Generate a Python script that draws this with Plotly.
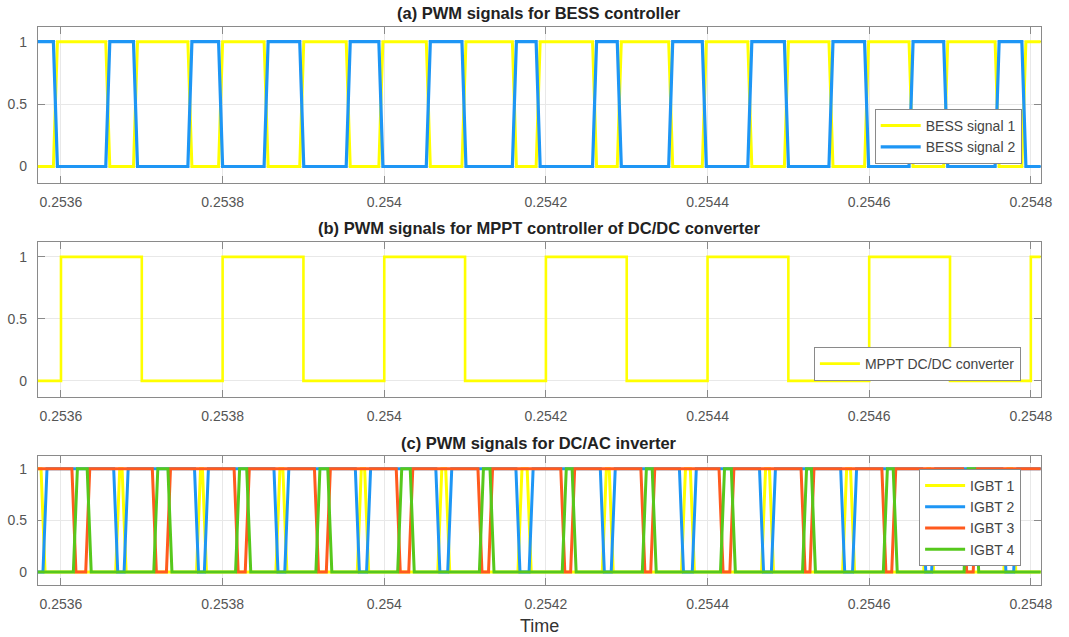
import plotly.graph_objects as go

# ---------------- data (switching instants in seconds) ----------------
T_START = 0.25355
T_END = 0.25483
X_RANGE = [0.2535714, 0.2548122]
Y_RANGE = [-0.13, 1.12]

X_TICKS = [0.2536, 0.2538, 0.2540, 0.2542, 0.2544, 0.2546, 0.2548]
X_TICK_TEXT = ["0.2536", "0.2538", "0.254", "0.2542", "0.2544", "0.2546", "0.2548"]
Y_TICKS = [0, 0.5, 1]
Y_TICK_TEXT = ["0", "0.5", "1"]

# (a) BESS controller
BESS1_INIT = 0
BESS1_EDGES = [0.2535906, 0.2536554, 0.2536897, 0.2537570, 0.2537950, 0.2538513,
               0.2538954, 0.2539529, 0.2539933, 0.2540520, 0.2540961, 0.2541585,
               0.2541879, 0.2542577, 0.2542883, 0.2543519, 0.2543935, 0.2544498,
               0.2544951, 0.2545502, 0.2545943, 0.2546493, 0.2546922, 0.2547558,
               0.2547889]
BESS2_INIT = 1
BESS2_EDGES = [0.2535906, 0.2536554, 0.2536897, 0.2537570, 0.2537950, 0.2538513,
               0.2538954, 0.2539529, 0.2539933, 0.2540520, 0.2540961, 0.2541585,
               0.2541879, 0.2542577, 0.2542883, 0.2543519, 0.2543935, 0.2544498,
               0.2544951, 0.2545502, 0.2545943, 0.2546493, 0.2546922, 0.2547558,
               0.2547889]
BESS_RAMP = 5e-6

# (b) MPPT DC/DC converter
MPPT_INIT = 0
MPPT_EDGES = [0.2536, 0.2537, 0.2538, 0.2539, 0.2540, 0.2541, 0.2542, 0.2543,
              0.2544, 0.2545, 0.2546, 0.2547, 0.2548]
MPPT_RAMP = 0.0

# (c) DC/AC inverter
IGBT1_INIT = 1
IGBT1_EDGES = [0.2535753, 0.2536677, 0.2536756, 0.2537677, 0.2537750, 0.2538659,
               0.2538745, 0.2539666, 0.2539757, 0.2540662, 0.2540760, 0.2541654,
               0.2541768, 0.2542698, 0.2542783, 0.2543677, 0.2543787, 0.2544668,
               0.2544766, 0.2545671, 0.2545769, 0.2546675, 0.2546748, 0.2547666,
               0.2547764]
IGBT2_INIT = 0
IGBT2_EDGES = [0.2535777, 0.2536652, 0.2536781, 0.2537652, 0.2537774, 0.2538635,
               0.2538769, 0.2539642, 0.2539781, 0.2540638, 0.2540785, 0.2541629,
               0.2541792, 0.2542673, 0.2542808, 0.2543652, 0.2543811, 0.2544643,
               0.2544790, 0.2545647, 0.2545794, 0.2546650, 0.2546773, 0.2547642,
               0.2547788]
IGBT3_INIT = 1
IGBT3_EDGES = [0.2536135, 0.2536306, 0.2537130, 0.2537305, 0.2538142, 0.2538280,
               0.2539136, 0.2539283, 0.2540148, 0.2540303, 0.2541159, 0.2541290,
               0.2542184, 0.2542306, 0.2543175, 0.2543297, 0.2544142, 0.2544276,
               0.2545157, 0.2545267, 0.2546157, 0.2546279, 0.2547156, 0.2547287]
IGBT4_INIT = 0
IGBT4_EDGES = [0.2536153, 0.2536324, 0.2537148, 0.2537323, 0.2538160, 0.2538298,
               0.2539154, 0.2539301, 0.2540166, 0.2540321, 0.2541177, 0.2541308,
               0.2542202, 0.2542324, 0.2543193, 0.2543315, 0.2544160, 0.2544294,
               0.2545175, 0.2545285, 0.2546175, 0.2546297, 0.2547174, 0.2547305]
IGBT_RAMP = 5e-6

# ---------------- styling ----------------
YELLOW = "#ffff00"
BLUE = "#1e96f5"
RED = "#ff5a1e"
GREEN = "#56c81c"
FONT = "Liberation Sans, Arial, Helvetica, sans-serif"
AXIS_COL = "#8a8a8a"
GRID_COL = "#e8e8e8"
TICK_FONT_COL = "#555555"

W, H = 1069, 637


def waveform(init, edges, ramp):
    xs, ys = [T_START], [init]
    v = init
    for e in edges:
        xs.append(e)
        ys.append(v)
        v = 1 - v
        xs.append(e + ramp)
        ys.append(v)
    xs.append(T_END)
    ys.append(v)
    return xs, ys


fig = go.Figure()


def add(name, init, edges, ramp, color, width, ax, legend):
    xs, ys = waveform(init, edges, ramp)
    fig.add_trace(go.Scatter(x=xs, y=ys, mode="lines", name=name,
                             line=dict(color=color, width=width),
                             xaxis=ax[0], yaxis=ax[1], legend=legend,
                             hoverinfo="skip"))


add("BESS signal 1", BESS1_INIT, BESS1_EDGES, BESS_RAMP, YELLOW, 3, ("x", "y"), "legend")
add("BESS signal 2", BESS2_INIT, BESS2_EDGES, BESS_RAMP, BLUE, 3.2, ("x", "y"), "legend")
add("MPPT DC/DC converter", MPPT_INIT, MPPT_EDGES, MPPT_RAMP, YELLOW, 2.6, ("x2", "y2"), "legend2")
add("IGBT 1", IGBT1_INIT, IGBT1_EDGES, IGBT_RAMP, YELLOW, 3, ("x3", "y3"), "legend3")
add("IGBT 2", IGBT2_INIT, IGBT2_EDGES, IGBT_RAMP, BLUE, 3, ("x3", "y3"), "legend3")
add("IGBT 3", IGBT3_INIT, IGBT3_EDGES, IGBT_RAMP, RED, 3, ("x3", "y3"), "legend3")
add("IGBT 4", IGBT4_INIT, IGBT4_EDGES, IGBT_RAMP, GREEN, 3, ("x3", "y3"), "legend3")

# panel geometry (pixels from top)
left_px, right_px = 38.3, 1052.5
panels = [(26.7, 182.7), (242.0, 397.0), (456.3, 585.3)]
xdom = [left_px / W, right_px / W]


def ydom(top, bot):
    return [1 - bot / H, 1 - top / H]


common_x = dict(range=X_RANGE, tickvals=X_TICKS, ticktext=X_TICK_TEXT,
                ticks="inside", ticklen=7, tickwidth=1, tickcolor=AXIS_COL,
                showline=True, linecolor=AXIS_COL, linewidth=1, mirror="ticks",
                showgrid=True, gridcolor=GRID_COL, gridwidth=1, zeroline=False,
                tickfont=dict(family=FONT, size=14, color=TICK_FONT_COL),
                ticklabelstandoff=6, fixedrange=True, layer="below traces")
common_y = dict(range=Y_RANGE, tickvals=Y_TICKS, ticktext=Y_TICK_TEXT,
                ticks="inside", ticklen=7, tickwidth=1, tickcolor=AXIS_COL,
                showline=True, linecolor=AXIS_COL, linewidth=1, mirror="ticks",
                showgrid=True, gridcolor=GRID_COL, gridwidth=1, zeroline=False,
                tickfont=dict(family=FONT, size=14, color=TICK_FONT_COL),
                ticklabelstandoff=7, fixedrange=True, layer="below traces")

layout = dict(width=W, height=H, autosize=False,
              margin=dict(l=0, r=0, t=0, b=0),
              paper_bgcolor="white", plot_bgcolor="white",
              font=dict(family=FONT, size=14, color="#333333"),
              showlegend=True)

for i, (top, bot) in enumerate(panels):
    sfx = "" if i == 0 else str(i + 1)
    layout["xaxis" + sfx] = dict(common_x, domain=xdom, anchor="y" + sfx)
    layout["yaxis" + sfx] = dict(common_y, domain=ydom(top, bot), anchor="x" + sfx)

legend_common = dict(bgcolor="white", bordercolor=AXIS_COL, borderwidth=1,
                     font=dict(family=FONT, size=14, color="#444444"),
                     xanchor="right", yanchor="bottom", tracegroupgap=0,
                     itemwidth=40)
layout["legend"] = dict(legend_common, x=1033.3 / W, y=1 - 164 / H)
layout["legend2"] = dict(legend_common, x=1032.5 / W, y=1 - 381 / H)
layout["legend3"] = dict(legend_common, x=1032.7 / W, y=1 - 566 / H)

titles = ["(a) PWM signals for BESS controller",
          "(b) PWM signals for MPPT controller of DC/DC converter",
          "(c) PWM signals for DC/AC inverter"]
title_y_px = [13.5, 228.5, 443]
annotations = []
cx = (left_px + right_px) / 2 / W
for t, ypx in zip(titles, title_y_px):
    annotations.append(dict(text="<b>%s</b>" % t, x=cx, y=1 - ypx / H,
                            xref="paper", yref="paper", xanchor="center",
                            yanchor="middle", showarrow=False,
                            font=dict(family=FONT, size=16.5, color="#222222")))
annotations.append(dict(text="Time", x=cx, y=1 - 626 / H, xref="paper", yref="paper",
                        xanchor="center", yanchor="middle", showarrow=False,
                        font=dict(family=FONT, size=18, color="#333333")))
layout["annotations"] = annotations

fig.update_layout(**layout)
fig.write_html("out.html")
